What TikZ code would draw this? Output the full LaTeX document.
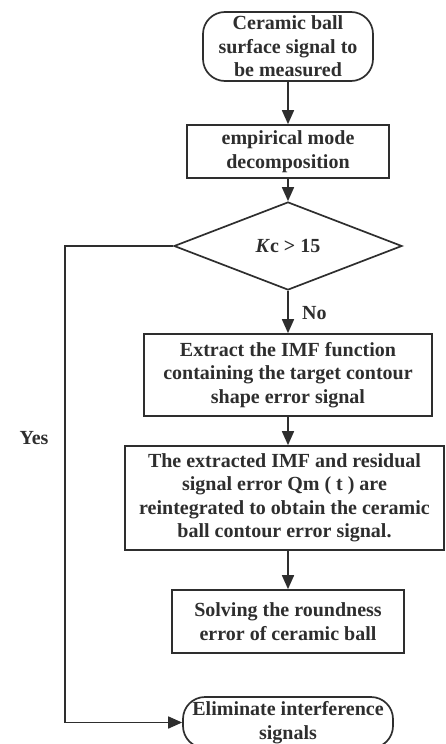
\documentclass[tikz,border=0pt]{standalone}
\usepackage{fontspec}
\setmainfont{Liberation Serif}
\usetikzlibrary{shapes.geometric,arrows.meta}
\definecolor{ink}{HTML}{2E2E2E}
\begin{document}
\begin{tikzpicture}[x=1pt,y=-1pt,
  every node/.style={font=\bfseries\fontsize{20}{23.5}\selectfont, text=ink},
  term/.style={draw=ink, line width=1.7pt, rounded corners=22pt, align=center, inner sep=0pt},
  procbox/.style={draw=ink, line width=1.7pt, align=center, inner sep=0pt},
  decis/.style={draw=ink, line width=1.7pt, diamond, inner sep=0pt},
  flow/.style={draw=ink, line width=1.7pt, -{Triangle[length=14pt,width=12pt]}},
  lbl/.style={inner sep=0pt}]
\useasboundingbox (0,0) rectangle (446,744);
\clip (0,0) rectangle (446,744);
\node[term, minimum width=170, minimum height=69] (start) at (288,46.5)
  {Ceramic ball\\surface signal to\\be measured};
\node[procbox, minimum width=202, minimum height=53] (emd) at (288,151.5)
  {empirical mode\\decomposition};
\node[decis, minimum width=228, minimum height=88] (kc) at (288,246)
  {\textit{K}c > 15};
\node[procbox, minimum width=288, minimum height=82] (imf) at (288,375)
  {Extract the IMF function\\containing the target contour\\shape error signal};
\node[procbox, minimum width=319, minimum height=104] (rein) at (284.5,498)
  {The extracted IMF and residual\\signal error Qm ( t ) are\\reintegrated to obtain the ceramic\\ball contour error signal.};
\node[procbox, minimum width=232, minimum height=63] (solve) at (288,621.5)
  {Solving the roundness\\error of ceramic ball};
\node[term, minimum width=210, minimum height=51] (elim) at (288,722.5)
  {Eliminate interference\\signals};
\node[lbl, anchor=west] (no) at (302,313) {No};
\node[lbl] (yes) at (34,438) {Yes};
\coordinate (c1) at (65,246);
\coordinate (c2) at (65,722.5);
\draw[flow] (start.south) -- (emd.north);
\draw[flow] (emd.south) -- (kc.north);
\draw[flow] (kc.south) -- (imf.north);
\draw[flow] (imf.south) -- (imf.south |- rein.north);
\draw[flow] (imf.south |- rein.south) -- (solve.north);
\draw[flow] (kc.west) -- (c1) -- (c2) -- (elim.west);
\end{tikzpicture}
\end{document}
